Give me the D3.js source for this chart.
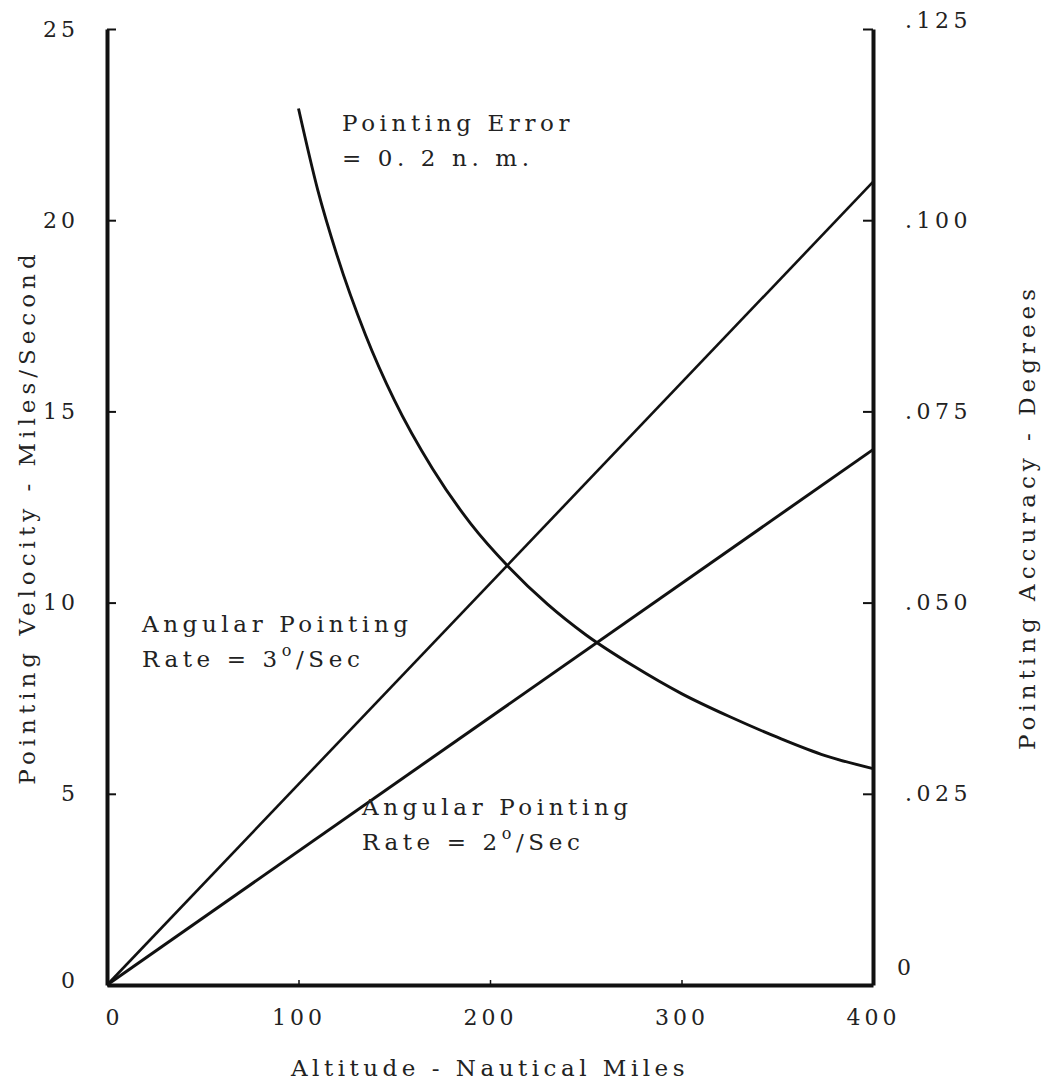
<!DOCTYPE html>
<html>
<head>
<meta charset="utf-8">
<script src="https://cdn.jsdelivr.net/npm/d3@7"></script>
<style>
  body { margin: 0; background: #fff; }
  text { font-family: "DejaVu Serif", serif; fill: #222; }
</style>
</head>
<body>
<svg id="chart" width="1044" height="1082"></svg>
<script>
// tick values
var altitudeTicks = [0, 100, 200, 300, 400];
var velocityTicks = [0, 5, 10, 15, 20, 25];
var accuracyTicks = [0, 0.025, 0.05, 0.075, 0.1, 0.125];
var accuracyLabels = ["0", ".025", ".050", ".075", ".100", ".125"];

// angular pointing rate lines (altitude n.m., velocity miles/sec)
var rate3Alt = [0, 400];
var rate3Vel = [0, 21];
var rate2Alt = [0, 400];
var rate2Vel = [0, 14];

// pointing error = 0.2 n.m. curve (altitude n.m., accuracy degrees)
var errorAlt = [100, 110, 120, 135, 150, 170, 190, 210, 230, 250, 275, 300, 325, 350, 375, 400];
var errorDeg = [0.1146, 0.104, 0.0955, 0.085, 0.0765, 0.0675, 0.0603, 0.0546, 0.0498, 0.0458, 0.0417, 0.0381, 0.0351, 0.0324, 0.0300, 0.0283];

var svg = d3.select("#chart"),
    margin = {top: 29, right: 171, bottom: 97, left: 107},
    width = 1044 - margin.left - margin.right,
    height = 1082 - margin.top - margin.bottom,
    g = svg.append("g").attr("transform", "translate(" + margin.left + "," + margin.top + ")");

var x = d3.scaleLinear().domain([0, 400]).range([0, width]);
var yL = d3.scaleLinear().domain([0, 25]).range([height, 0]);
var yR = d3.scaleLinear().domain([0, 0.125]).range([height, 0]);

// left axis, ticks pointing inward
var left = g.append("g")
    .call(d3.axisRight(yL).tickValues(velocityTicks).tickSize(9).tickSizeOuter(0).tickFormat(d3.format("d")));
left.selectAll("text")
    .attr("x", -28)
    .attr("text-anchor", "end")
    .attr("dy", function (d) { return d == 0 ? "0.1em" : "0.32em"; })
    .style("font-size", "22px")
    .style("letter-spacing", "4px");

// right axis, ticks pointing inward
var right = g.append("g")
    .attr("transform", "translate(" + width + ",0)")
    .call(d3.axisLeft(yR).tickValues(accuracyTicks).tickSize(10).tickSizeOuter(0)
        .tickFormat(function (d, i) { return accuracyLabels[i]; }));
right.selectAll("text")
    .attr("text-anchor", "start")
    .style("font-size", "22px")
    .style("letter-spacing", "4.5px")
    .attr("dy", function (d) { return d == 0 ? "-0.5em" : (d == 0.125 ? "-0.05em" : "0.32em"); })
    .attr("x", function (d) { return d == 0 ? 24 : 32; });

// bottom axis
var bottom = g.append("g")
    .attr("transform", "translate(0," + height + ")")
    .call(d3.axisTop(x).tickValues(altitudeTicks).tickSize(5).tickSizeOuter(0));
bottom.selectAll("text")
    .attr("y", 24)
    .attr("dy", "0.71em")
    .attr("x", function (d) { return d == 0 ? 7 : 0; })
    .style("font-size", "22px")
    .style("letter-spacing", "4px");

[left, right, bottom].forEach(function (a) {
    a.select(".domain").attr("stroke", "#111").attr("stroke-width", 4);
    a.selectAll(".tick line").attr("stroke", "#111").attr("stroke-width", 2);
});
bottom.selectAll(".tick line").attr("stroke-width", 1.5);

var line = d3.line()
    .x(function (d) { return x(d[0]); })
    .y(function (d) { return d[1]; });

g.append("path")
    .datum(rate3Alt.map(function (a, i) { return [a, yL(rate3Vel[i])]; }))
    .attr("fill", "none").attr("stroke", "#111").attr("stroke-width", 2.6)
    .attr("d", line);

g.append("path")
    .datum(rate2Alt.map(function (a, i) { return [a, yL(rate2Vel[i])]; }))
    .attr("fill", "none").attr("stroke", "#111").attr("stroke-width", 3)
    .attr("d", line);

g.append("path")
    .datum(errorAlt.map(function (a, i) { return [a, yR(errorDeg[i])]; }))
    .attr("fill", "none").attr("stroke", "#111").attr("stroke-width", 2.9)
    .attr("d", line.curve(d3.curveMonotoneX));

// annotations
var note = function (px, py, lines) {
    var t = svg.append("text")
        .attr("x", px).attr("y", py)
        .style("font-size", "23px")
        .style("letter-spacing", "4.6px");
    lines.forEach(function (l, i) {
        var row = t.append("tspan").attr("x", px).attr("dy", i == 0 ? 0 : 35);
        l.forEach(function (part) {
            if (part.sup) {
                row.append("tspan").attr("dy", -11).style("font-size", "16px").text(part.sup);
                row.append("tspan").attr("dy", 11).text(part.after);
            } else {
                row.append("tspan").text(part.text);
            }
        });
    });
};

note(342, 131, [[{text: "Pointing Error"}], [{text: "= 0. 2 n. m."}]]);
note(142, 632, [[{text: "Angular Pointing"}], [{text: "Rate = 3"}, {sup: "o", after: "/Sec"}]]);
note(362, 815, [[{text: "Angular Pointing"}], [{text: "Rate = 2"}, {sup: "o", after: "/Sec"}]]);

// axis titles
svg.append("text")
    .attr("transform", "translate(" + (margin.left + width / 2) + "," + 1076 + ")")
    .attr("text-anchor", "middle")
    .style("font-size", "23px")
    .style("letter-spacing", "4.5px")
    .text("Altitude - Nautical Miles");

svg.append("text")
    .attr("transform", "translate(35," + (margin.top + height / 2 + 10) + ") rotate(-90)")
    .attr("text-anchor", "middle")
    .style("font-size", "23px")
    .style("letter-spacing", "5px")
    .text("Pointing Velocity - Miles/Second");

svg.append("text")
    .attr("transform", "translate(1035," + (margin.top + height / 2 + 10) + ") rotate(-90)")
    .attr("text-anchor", "middle")
    .style("font-size", "23px")
    .style("letter-spacing", "5px")
    .text("Pointing Accuracy - Degrees");
</script>
</body>
</html>
